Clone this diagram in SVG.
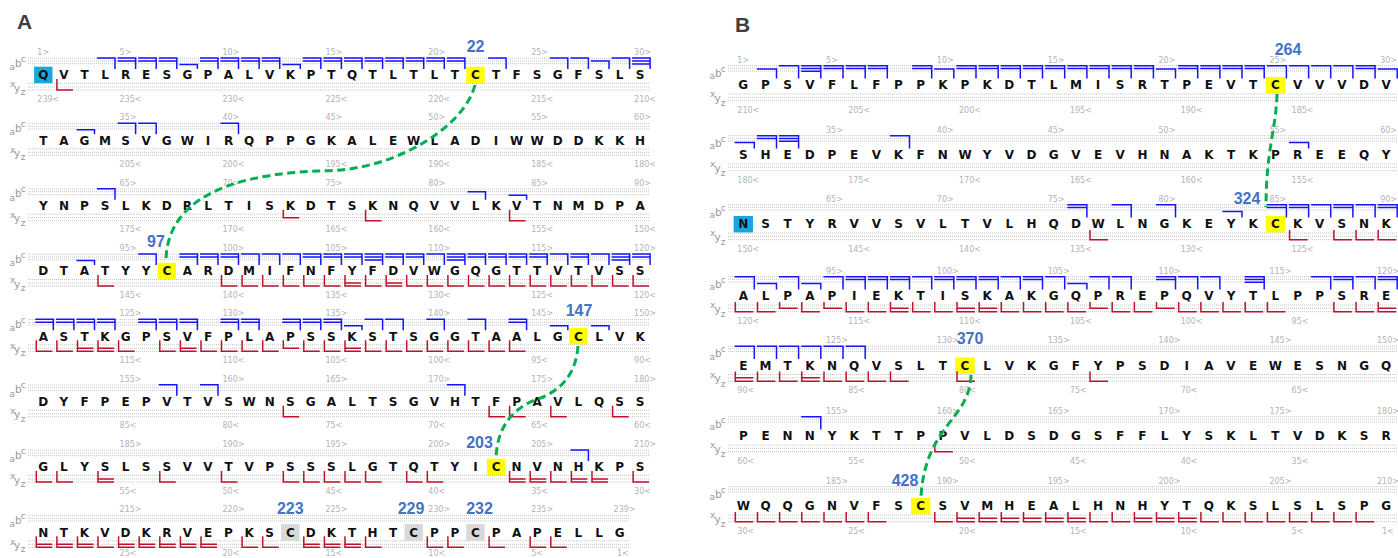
<svg xmlns="http://www.w3.org/2000/svg" xmlns:xlink="http://www.w3.org/1999/xlink" width="1398" height="558" viewBox="0 0 1398 558">
<style>
.seq{font-family:"DejaVu Sans",Verdana,sans-serif;font-weight:bold;font-size:12px;fill:#111;text-anchor:middle}
.num{font-family:"DejaVu Sans",Verdana,sans-serif;font-size:8px;fill:#b4b4b4}
.lab{font-family:"DejaVu Sans",Verdana,sans-serif;fill:#9a9a9a}
.dot{stroke:#c4c4c4;stroke-width:1;stroke-dasharray:1 1;fill:none}
.bl{stroke:#1414ff;stroke-width:1.5;fill:none}
.rd{stroke:#c0102e;stroke-width:1.5;fill:none}
.cys{font-family:"Liberation Sans",Arial,sans-serif;font-weight:bold;font-size:16px;fill:#4472c4;text-anchor:middle}
.ss{stroke:#00b050;stroke-width:3;stroke-dasharray:8 4.5;fill:none}
.pl{font-family:"Liberation Sans",Arial,sans-serif;font-weight:bold;font-size:21px;fill:#404040}
.yel{fill:#ffff00}.gry{fill:#d9d9d9}.cyn{fill:#19a6e0}
</style>
<defs>
<path id="dA" class="dot" d="M28 -16.7H650M28 -14H650M28 -11.3H650M28 8.5H650M28 12H650M28 15H650"/>
<path id="dA2" class="dot" d="M28 -16.7H630M28 -14H630M28 -11.3H630M28 8.5H630M28 12H630M28 15H630"/>
<path id="dB" class="dot" d="M728 -19.3H1398M728 -16.7H1398M728 -14H1398M728 9H1398M728 12.3H1398M728 15.7H1398"/>
<g id="abcA" class="lab"><text x="9.5" y="-5" font-size="9">a</text><text x="15" y="-8.3" font-size="10.5">b</text><text x="20.7" y="-13.3" font-size="9">c</text><text x="10" y="12.3" font-size="9">x</text><text x="14" y="16.5" font-size="10.5">y</text><text x="20.7" y="20" font-size="9">z</text></g>
<g id="abcB" class="lab"><text x="709.5" y="-5.7" font-size="9">a</text><text x="715" y="-8.3" font-size="10.5">b</text><text x="720.7" y="-13.3" font-size="9">c</text><text x="710" y="12.3" font-size="9">x</text><text x="714.5" y="16.5" font-size="10.5">y</text><text x="720.7" y="21" font-size="9">z</text></g>
<path id="Ac" d="M-8 -17H10V-6"/>
<path id="Acb" d="M-8 -17H10V-6M-8 -14H10"/>
<path id="Acba" d="M-8 -17H10V-6M-8 -14H10M-8 -11H10"/>
<path id="Ab" d="M-8 -14H10V-6"/>
<path id="Aa" d="M-8 -10.5H10V-6"/>
<path id="Az" d="M-7 4V15H9"/>
<path id="Ayz" d="M-7 4V15H9M-7 12H9"/>
<path id="Ay" d="M-7 4V12H9"/>
<path id="Bc" d="M-8.6 -19.3H11V-6.5"/>
<path id="Bcb" d="M-8.6 -19.3H11V-6.5M-8.6 -16.5H11"/>
<path id="Bcba" d="M-8.6 -19.3H11V-6.5M-8.6 -16.5H11M-8.6 -13.7H11"/>
<path id="Bb" d="M-8.6 -16H11V-6.5"/>
<path id="Ba" d="M-8.6 -12.5H11V-6.5"/>
<path id="Bz" d="M-8 6V15.7H10"/>
<path id="Byz" d="M-8 6V15.7H10M-8 12.3H10"/>
<path id="By" d="M-8 6V12.3H10"/>
</defs>
<rect width="1398" height="558" fill="#ffffff"/>
<text class="pl" x="17" y="29.3">A</text>
<text class="pl" x="735" y="32.3">B</text>

<!-- cysteine / terminus nodes (highlights + labels) -->
<g id="nterm-A"><rect class="cyn" x="34.1" y="66.7" width="18.4" height="16.6"/></g>
<g id="cys22"><rect class="yel" x="466.3" y="66.7" width="18.4" height="16.6"/><text class="cys" x="475.6" y="51.7">22</text></g>
<g id="cys97"><rect class="yel" x="157.6" y="262.7" width="18.4" height="16.6"/><text class="cys" x="156" y="246.5">97</text></g>
<g id="cys147"><rect class="yel" x="569.2" y="328" width="18.4" height="16.6"/><text class="cys" x="579" y="316">147</text></g>
<g id="cys203"><rect class="yel" x="486.9" y="458.7" width="18.4" height="16.6"/><text class="cys" x="479.5" y="448.3">203</text></g>
<g id="cys223"><rect class="gry" x="281.1" y="524" width="18.4" height="16.6"/><text class="cys" x="290.3" y="514">223</text></g>
<g id="cys229"><rect class="gry" x="404.5" y="524" width="18.4" height="16.6"/><text class="cys" x="411" y="514">229</text></g>
<g id="cys232"><rect class="gry" x="466.3" y="524" width="18.4" height="16.6"/><text class="cys" x="479.5" y="514">232</text></g>
<g id="nterm-B"><rect class="cyn" x="733.6" y="216" width="19.4" height="16.5"/></g>
<g id="cys264"><rect class="yel" x="1265.7" y="77" width="19.4" height="16.5"/><text class="cys" x="1288" y="54.5">264</text></g>
<g id="cys324"><rect class="yel" x="1265.7" y="216" width="19.4" height="16.5"/><text class="cys" x="1247" y="204">324</text></g>
<g id="cys370"><rect class="yel" x="955.3" y="357.5" width="19.4" height="16.5"/><text class="cys" x="970" y="344">370</text></g>
<g id="cys428"><rect class="yel" x="911" y="498" width="19.4" height="16.5"/><text class="cys" x="905" y="486">428</text></g>

<!-- Panel A rows -->
<g id="A-row1" transform="translate(0,75)">
<use href="#dA"/><use href="#abcA"/>
<g class="bl"><use href="#Ac" x="105"/><use href="#Acb" x="125.6"/><use href="#Acb" x="146.2"/><use href="#Acb" x="166.8"/><use href="#Aa" x="187.4"/><use href="#Acb" x="208"/><use href="#Acb" x="228.5"/><use href="#Acb" x="249.1"/><use href="#Acb" x="269.7"/><use href="#Aa" x="290.3"/><use href="#Acb" x="310.8"/><use href="#Acb" x="331.4"/><use href="#Acb" x="352"/><use href="#Acb" x="372.6"/><use href="#Acb" x="393.2"/><use href="#Acb" x="413.7"/><use href="#Acb" x="434.3"/><use href="#Acb" x="454.9"/><use href="#Ac" x="496.1"/><use href="#Ac" x="557.8"/><use href="#Ac" x="578.4"/><use href="#Ab" x="599"/><use href="#Ac" x="619.6"/><use href="#Acba" x="640.1"/></g>
<g class="rd"><use href="#Az" x="63.9"/></g>
<text class="seq" y="4.4" x="43.3 63.9 84.5 105 125.6 146.2 166.8 187.4 208 228.5 249.1 269.7 290.3 310.8 331.4 352 372.6 393.2 413.7 434.3 454.9 475.5 496.1 516.6 537.2 557.8 578.4 599 619.6 640.1">QVTLRESGPALVKPTQTLTLTCTFSGFSLS</text>
<text class="num" y="-20"><tspan x="37.3">1&gt;</tspan><tspan x="119.6">5&gt;</tspan><tspan x="222.5">10&gt;</tspan><tspan x="325.4">15&gt;</tspan><tspan x="428.3">20&gt;</tspan><tspan x="531.2">25&gt;</tspan><tspan x="634.1">30&gt;</tspan></text>
<text class="num" y="26.7"><tspan x="37.3">239&lt;</tspan><tspan x="119.6">235&lt;</tspan><tspan x="222.5">230&lt;</tspan><tspan x="325.4">225&lt;</tspan><tspan x="428.3">220&lt;</tspan><tspan x="531.2">215&lt;</tspan><tspan x="634.1">210&lt;</tspan></text>
</g>

<g id="A-row2" transform="translate(0,140.3)">
<use href="#dA"/><use href="#abcA"/>
<g class="bl"><use href="#Aa" x="84.5"/><use href="#Ac" x="125.6"/><use href="#Ac" x="146.2"/><use href="#Ac" x="228.5"/></g>
<text class="seq" y="4.4" x="43.3 63.9 84.5 105 125.6 146.2 166.8 187.4 208 228.5 249.1 269.7 290.3 310.8 331.4 352 372.6 393.2 413.7 434.3 454.9 475.5 496.1 516.6 537.2 557.8 578.4 599 619.6 640.1">TAGMSVGWIRQPPGKALEWLADIWWDDKKH</text>
<text class="num" y="-20"><tspan x="119.6">35&gt;</tspan><tspan x="222.5">40&gt;</tspan><tspan x="325.4">45&gt;</tspan><tspan x="428.3">50&gt;</tspan><tspan x="531.2">55&gt;</tspan><tspan x="634.1">60&gt;</tspan></text>
<text class="num" y="26.7"><tspan x="119.6">205&lt;</tspan><tspan x="222.5">200&lt;</tspan><tspan x="325.4">195&lt;</tspan><tspan x="428.3">190&lt;</tspan><tspan x="531.2">185&lt;</tspan><tspan x="634.1">180&lt;</tspan></text>
</g>

<g id="A-row3" transform="translate(0,205.7)">
<use href="#dA"/><use href="#abcA"/>
<g class="bl"><use href="#Ac" x="105"/><use href="#Ab" x="475.5"/><use href="#Aa" x="516.6"/></g>
<g class="rd"><use href="#Ay" x="290.3"/><use href="#Az" x="372.6"/><use href="#Az" x="516.6"/></g>
<text class="seq" y="4.4" x="43.3 63.9 84.5 105 125.6 146.2 166.8 187.4 208 228.5 249.1 269.7 290.3 310.8 331.4 352 372.6 393.2 413.7 434.3 454.9 475.5 496.1 516.6 537.2 557.8 578.4 599 619.6 640.1">YNPSLKDRLTISKDTSKNQVVLKVTNMDPA</text>
<text class="num" y="-20"><tspan x="119.6">65&gt;</tspan><tspan x="222.5">70&gt;</tspan><tspan x="325.4">75&gt;</tspan><tspan x="428.3">80&gt;</tspan><tspan x="531.2">85&gt;</tspan><tspan x="634.1">90&gt;</tspan></text>
<text class="num" y="26.7"><tspan x="119.6">175&lt;</tspan><tspan x="222.5">170&lt;</tspan><tspan x="325.4">165&lt;</tspan><tspan x="428.3">160&lt;</tspan><tspan x="531.2">155&lt;</tspan><tspan x="634.1">150&lt;</tspan></text>
</g>

<g id="A-row4" transform="translate(0,271)">
<use href="#dA"/><use href="#abcA"/>
<g class="bl"><use href="#Aa" x="84.5"/><use href="#Ac" x="146.2"/><use href="#Acb" x="187.4"/><use href="#Acb" x="208"/><use href="#Acb" x="228.5"/><use href="#Ac" x="249.1"/><use href="#Ac" x="269.7"/><use href="#Ac" x="290.3"/><use href="#Acb" x="310.8"/><use href="#Acb" x="331.4"/><use href="#Acb" x="352"/><use href="#Acba" x="372.6"/><use href="#Acb" x="393.2"/><use href="#Acb" x="413.7"/><use href="#Ac" x="434.3"/><use href="#Acba" x="454.9"/><use href="#Acb" x="475.5"/><use href="#Acb" x="496.1"/><use href="#Acb" x="516.6"/><use href="#Acb" x="537.2"/><use href="#Ac" x="557.8"/><use href="#Acb" x="578.4"/><use href="#Ac" x="599"/><use href="#Acba" x="619.6"/><use href="#Acb" x="640.1"/></g>
<g class="rd"><use href="#Az" x="105"/><use href="#Az" x="228.5"/><use href="#Az" x="249.1"/><use href="#Az" x="269.7"/><use href="#Az" x="290.3"/><use href="#Az" x="310.8"/><use href="#Az" x="331.4"/><use href="#Ayz" x="352"/><use href="#Az" x="372.6"/><use href="#Ayz" x="393.2"/><use href="#Az" x="413.7"/><use href="#Az" x="434.3"/><use href="#Az" x="454.9"/><use href="#Az" x="475.5"/><use href="#Az" x="496.1"/><use href="#Az" x="516.6"/><use href="#Az" x="537.2"/><use href="#Az" x="557.8"/><use href="#Az" x="578.4"/><use href="#Az" x="599"/><use href="#Az" x="619.6"/><use href="#Az" x="640.1"/></g>
<text class="seq" y="4.4" x="43.3 63.9 84.5 105 125.6 146.2 166.8 187.4 208 228.5 249.1 269.7 290.3 310.8 331.4 352 372.6 393.2 413.7 434.3 454.9 475.5 496.1 516.6 537.2 557.8 578.4 599 619.6 640.1">DTATYYCARDMIFNFYFDVWGQGTTVTVSS</text>
<text class="num" y="-20"><tspan x="119.6">95&gt;</tspan><tspan x="222.5">100&gt;</tspan><tspan x="325.4">105&gt;</tspan><tspan x="428.3">110&gt;</tspan><tspan x="531.2">115&gt;</tspan><tspan x="634.1">120&gt;</tspan></text>
<text class="num" y="26.7"><tspan x="119.6">145&lt;</tspan><tspan x="222.5">140&lt;</tspan><tspan x="325.4">135&lt;</tspan><tspan x="428.3">130&lt;</tspan><tspan x="531.2">125&lt;</tspan><tspan x="634.1">120&lt;</tspan></text>
</g>

<g id="A-row5" transform="translate(0,336.3)">
<use href="#dA"/><use href="#abcA"/>
<g class="bl"><use href="#Acb" x="43.3"/><use href="#Acb" x="63.9"/><use href="#Acb" x="84.5"/><use href="#Acb" x="105"/><use href="#Acb" x="146.2"/><use href="#Acb" x="166.8"/><use href="#Acb" x="187.4"/><use href="#Acb" x="228.5"/><use href="#Acb" x="249.1"/><use href="#Acb" x="290.3"/><use href="#Acb" x="310.8"/><use href="#Acb" x="331.4"/><use href="#Aa" x="352"/><use href="#Ac" x="372.6"/><use href="#Ac" x="393.2"/><use href="#Ac" x="434.3"/><use href="#Ac" x="475.5"/><use href="#Acb" x="516.6"/><use href="#Aa" x="557.8"/><use href="#Aa" x="599"/></g>
<g class="rd"><use href="#Az" x="43.3"/><use href="#Az" x="63.9"/><use href="#Ayz" x="84.5"/><use href="#Ayz" x="105"/><use href="#Az" x="125.6"/><use href="#Az" x="166.8"/><use href="#Ayz" x="187.4"/><use href="#Az" x="208"/><use href="#Az" x="228.5"/><use href="#Az" x="249.1"/><use href="#Az" x="269.7"/><use href="#Ay" x="290.3"/><use href="#Az" x="310.8"/><use href="#Az" x="331.4"/><use href="#Ayz" x="352"/><use href="#Az" x="372.6"/><use href="#Az" x="393.2"/><use href="#Az" x="413.7"/><use href="#Az" x="434.3"/><use href="#Az" x="454.9"/><use href="#Az" x="475.5"/><use href="#Az" x="496.1"/><use href="#Az" x="516.6"/></g>
<text class="seq" y="4.4" x="43.3 63.9 84.5 105 125.6 146.2 166.8 187.4 208 228.5 249.1 269.7 290.3 310.8 331.4 352 372.6 393.2 413.7 434.3 454.9 475.5 496.1 516.6 537.2 557.8 578.4 599 619.6 640.1">ASTKGPSVFPLAPSSKSTSGGTAALGCLVK</text>
<text class="num" y="-20"><tspan x="119.6">125&gt;</tspan><tspan x="222.5">130&gt;</tspan><tspan x="325.4">135&gt;</tspan><tspan x="428.3">140&gt;</tspan><tspan x="531.2">145&gt;</tspan><tspan x="634.1">150&gt;</tspan></text>
<text class="num" y="26.7"><tspan x="119.6">115&lt;</tspan><tspan x="222.5">110&lt;</tspan><tspan x="325.4">105&lt;</tspan><tspan x="428.3">100&lt;</tspan><tspan x="531.2">95&lt;</tspan><tspan x="634.1">90&lt;</tspan></text>
</g>

<g id="A-row6" transform="translate(0,401.7)">
<use href="#dA"/><use href="#abcA"/>
<g class="bl"><use href="#Ac" x="166.8"/><use href="#Ac" x="208"/><use href="#Ac" x="454.9"/></g>
<g class="rd"><use href="#Az" x="290.3"/><use href="#Az" x="496.1"/><use href="#Az" x="516.6"/><use href="#Az" x="557.8"/><use href="#Az" x="619.6"/></g>
<text class="seq" y="4.4" x="43.3 63.9 84.5 105 125.6 146.2 166.8 187.4 208 228.5 249.1 269.7 290.3 310.8 331.4 352 372.6 393.2 413.7 434.3 454.9 475.5 496.1 516.6 537.2 557.8 578.4 599 619.6 640.1">DYFPEPVTVSWNSGALTSGVHTFPAVLQSS</text>
<text class="num" y="-20"><tspan x="119.6">155&gt;</tspan><tspan x="222.5">160&gt;</tspan><tspan x="325.4">165&gt;</tspan><tspan x="428.3">170&gt;</tspan><tspan x="531.2">175&gt;</tspan><tspan x="634.1">180&gt;</tspan></text>
<text class="num" y="26.7"><tspan x="119.6">85&lt;</tspan><tspan x="222.5">80&lt;</tspan><tspan x="325.4">75&lt;</tspan><tspan x="428.3">70&lt;</tspan><tspan x="531.2">65&lt;</tspan><tspan x="634.1">60&lt;</tspan></text>
</g>

<g id="A-row7" transform="translate(0,467)">
<use href="#dA"/><use href="#abcA"/>
<g class="bl"><use href="#Ac" x="578.4"/></g>
<g class="rd"><use href="#Az" x="43.3"/><use href="#Az" x="63.9"/><use href="#Ayz" x="105"/><use href="#Az" x="166.8"/><use href="#Az" x="228.5"/><use href="#Az" x="290.3"/><use href="#Az" x="310.8"/><use href="#Az" x="331.4"/><use href="#Az" x="352"/><use href="#Az" x="372.6"/><use href="#Az" x="413.7"/><use href="#Az" x="434.3"/><use href="#Ayz" x="516.6"/><use href="#Ayz" x="537.2"/><use href="#Az" x="557.8"/><use href="#Ayz" x="578.4"/><use href="#Ayz" x="599"/><use href="#Az" x="640.1"/></g>
<text class="seq" y="4.4" x="43.3 63.9 84.5 105 125.6 146.2 166.8 187.4 208 228.5 249.1 269.7 290.3 310.8 331.4 352 372.6 393.2 413.7 434.3 454.9 475.5 496.1 516.6 537.2 557.8 578.4 599 619.6 640.1">GLYSLSSVVTVPSSSLGTQTYICNVNHKPS</text>
<text class="num" y="-20"><tspan x="119.6">185&gt;</tspan><tspan x="222.5">190&gt;</tspan><tspan x="325.4">195&gt;</tspan><tspan x="428.3">200&gt;</tspan><tspan x="531.2">205&gt;</tspan><tspan x="634.1">210&gt;</tspan></text>
<text class="num" y="26.7"><tspan x="119.6">55&lt;</tspan><tspan x="222.5">50&lt;</tspan><tspan x="325.4">45&lt;</tspan><tspan x="428.3">40&lt;</tspan><tspan x="531.2">35&lt;</tspan><tspan x="634.1">30&lt;</tspan></text>
</g>

<g id="A-row8" transform="translate(0,532.3)">
<use href="#dA2"/><use href="#abcA"/>
<g class="rd"><use href="#Ayz" x="43.3"/><use href="#Ayz" x="63.9"/><use href="#Ayz" x="84.5"/><use href="#Az" x="105"/><use href="#Ayz" x="125.6"/><use href="#Ayz" x="146.2"/><use href="#Ayz" x="166.8"/><use href="#Ayz" x="187.4"/><use href="#Ayz" x="208"/><use href="#Az" x="249.1"/><use href="#Az" x="269.7"/><use href="#Ayz" x="310.8"/><use href="#Ayz" x="331.4"/><use href="#Ayz" x="352"/><use href="#Az" x="372.6"/><use href="#Az" x="434.3"/><use href="#Az" x="454.9"/><use href="#Az" x="496.1"/><use href="#Az" x="537.2"/><use href="#Az" x="557.8"/></g>
<text class="seq" y="4.4" x="43.3 63.9 84.5 105 125.6 146.2 166.8 187.4 208 228.5 249.1 269.7 290.3 310.8 331.4 352 372.6 393.2 413.7 434.3 454.9 475.5 496.1 516.6 537.2 557.8 578.4 599 619.6">NTKVDKRVEPKSCDKTHTCPPCPAPELLG</text>
<text class="num" y="-20"><tspan x="119.6">215&gt;</tspan><tspan x="222.5">220&gt;</tspan><tspan x="325.4">225&gt;</tspan><tspan x="428.3">230&gt;</tspan><tspan x="531.2">235&gt;</tspan><tspan x="613.6">239&gt;</tspan></text>
<text class="num" y="23.5"><tspan x="119.6">25&lt;</tspan><tspan x="222.5">20&lt;</tspan><tspan x="325.4">15&lt;</tspan><tspan x="428.3">10&lt;</tspan><tspan x="531.2">5&lt;</tspan><tspan x="617">1&lt;</tspan></text>
</g>

<!-- Panel B rows -->
<g id="B-row1" transform="translate(0,85)">
<use href="#dB"/><use href="#abcB"/>
<g class="bl"><use href="#Bb" x="765.5"/><use href="#Bc" x="787.6"/><use href="#Bcba" x="809.8"/><use href="#Bcb" x="832"/><use href="#Bcb" x="854.2"/><use href="#Bcb" x="876.3"/><use href="#Bcb" x="920.7"/><use href="#Bb" x="942.8"/><use href="#Bcb" x="965"/><use href="#Bcb" x="987.2"/><use href="#Bcb" x="1009.3"/><use href="#Bcb" x="1031.5"/><use href="#Bcb" x="1053.7"/><use href="#Bcb" x="1075.9"/><use href="#Bcb" x="1098"/><use href="#Bcb" x="1120.2"/><use href="#Bcb" x="1142.4"/><use href="#Bb" x="1164.5"/><use href="#Bcb" x="1186.7"/><use href="#Bcb" x="1208.9"/><use href="#Bcb" x="1231"/><use href="#Bcb" x="1253.2"/><use href="#Bc" x="1275.4"/><use href="#Bc" x="1297.6"/><use href="#Bc" x="1319.7"/><use href="#Bc" x="1341.9"/><use href="#Bcb" x="1364.1"/><use href="#Bb" x="1386.2"/></g>
<text class="seq" y="4.4" x="743.3 765.5 787.6 809.8 832 854.2 876.3 898.5 920.7 942.8 965 987.2 1009.3 1031.5 1053.7 1075.9 1098 1120.2 1142.4 1164.5 1186.7 1208.9 1231 1253.2 1275.4 1297.6 1319.7 1341.9 1364.1 1386.2">GPSVFLFPPKPKDTLMISRTPEVTCVVVDV</text>
<text class="num" y="-22.3"><tspan x="737.3">1&gt;</tspan><tspan x="826">5&gt;</tspan><tspan x="936.8">10&gt;</tspan><tspan x="1047.7">15&gt;</tspan><tspan x="1158.5">20&gt;</tspan><tspan x="1269.4">25&gt;</tspan><tspan x="1380.2">30&gt;</tspan></text>
<text class="num" y="27.7"><tspan x="737.3">210&lt;</tspan><tspan x="848.2">205&lt;</tspan><tspan x="959">200&lt;</tspan><tspan x="1069.9">195&lt;</tspan><tspan x="1180.7">190&lt;</tspan><tspan x="1291.6">185&lt;</tspan></text>
</g>

<g id="B-row2" transform="translate(0,155)">
<use href="#dB"/><use href="#abcB"/>
<g class="bl"><use href="#Ba" x="743.3"/><use href="#Bcb" x="765.5"/><use href="#Bcba" x="787.6"/><use href="#Bc" x="898.5"/><use href="#Ba" x="1297.6"/></g>
<text class="seq" y="4.4" x="743.3 765.5 787.6 809.8 832 854.2 876.3 898.5 920.7 942.8 965 987.2 1009.3 1031.5 1053.7 1075.9 1098 1120.2 1142.4 1164.5 1186.7 1208.9 1231 1253.2 1275.4 1297.6 1319.7 1341.9 1364.1 1386.2">SHEDPEVKFNWYVDGVEVHNAKTKPREEQY</text>
<text class="num" y="-22.3"><tspan x="826">35&gt;</tspan><tspan x="936.8">40&gt;</tspan><tspan x="1047.7">45&gt;</tspan><tspan x="1158.5">50&gt;</tspan><tspan x="1269.4">55&gt;</tspan><tspan x="1380.2">60&gt;</tspan></text>
<text class="num" y="27.7"><tspan x="737.3">180&lt;</tspan><tspan x="848.2">175&lt;</tspan><tspan x="959">170&lt;</tspan><tspan x="1069.9">165&lt;</tspan><tspan x="1180.7">160&lt;</tspan><tspan x="1291.6">155&lt;</tspan></text>
</g>

<g id="B-row3" transform="translate(0,224)">
<use href="#dB"/><use href="#abcB"/>
<g class="bl"><use href="#Bcb" x="1075.9"/><use href="#Bc" x="1120.2"/><use href="#Bc" x="1164.5"/><use href="#Ba" x="1231"/><use href="#Bcb" x="1275.4"/><use href="#Bcb" x="1297.6"/><use href="#Bc" x="1319.7"/><use href="#Bcb" x="1341.9"/><use href="#Bc" x="1364.1"/><use href="#Bcb" x="1386.2"/></g>
<g class="rd"><use href="#Bz" x="1098"/><use href="#Bz" x="1297.6"/><use href="#Bz" x="1341.9"/><use href="#Bz" x="1364.1"/><use href="#Bz" x="1386.2"/></g>
<text class="seq" y="4.4" x="743.3 765.5 787.6 809.8 832 854.2 876.3 898.5 920.7 942.8 965 987.2 1009.3 1031.5 1053.7 1075.9 1098 1120.2 1142.4 1164.5 1186.7 1208.9 1231 1253.2 1275.4 1297.6 1319.7 1341.9 1364.1 1386.2">NSTYRVVSVLTVLHQDWLNGKEYKCKVSNK</text>
<text class="num" y="-22.3"><tspan x="826">65&gt;</tspan><tspan x="936.8">70&gt;</tspan><tspan x="1047.7">75&gt;</tspan><tspan x="1158.5">80&gt;</tspan><tspan x="1269.4">85&gt;</tspan><tspan x="1380.2">90&gt;</tspan></text>
<text class="num" y="27.7"><tspan x="737.3">150&lt;</tspan><tspan x="848.2">145&lt;</tspan><tspan x="959">140&lt;</tspan><tspan x="1069.9">135&lt;</tspan><tspan x="1180.7">130&lt;</tspan><tspan x="1291.6">125&lt;</tspan></text>
</g>

<g id="B-row4" transform="translate(0,296)">
<use href="#dB"/><use href="#abcB"/>
<g class="bl"><use href="#Bc" x="743.3"/><use href="#Ba" x="765.5"/><use href="#Bc" x="787.6"/><use href="#Ba" x="809.8"/><use href="#Bc" x="832"/><use href="#Bcb" x="854.2"/><use href="#Bcb" x="876.3"/><use href="#Bcb" x="898.5"/><use href="#Bc" x="920.7"/><use href="#Bcb" x="942.8"/><use href="#Bcb" x="965"/><use href="#Bcb" x="987.2"/><use href="#Bc" x="1009.3"/><use href="#Bcb" x="1031.5"/><use href="#Bc" x="1053.7"/><use href="#Ba" x="1075.9"/><use href="#Bc" x="1098"/><use href="#Bc" x="1120.2"/><use href="#Bcb" x="1164.5"/><use href="#Bc" x="1186.7"/><use href="#Bc" x="1208.9"/><use href="#Bcba" x="1253.2"/><use href="#Bc" x="1319.7"/><use href="#Bcb" x="1341.9"/><use href="#Bc" x="1364.1"/><use href="#Bcb" x="1386.2"/></g>
<g class="rd"><use href="#Bz" x="743.3"/><use href="#Bz" x="765.5"/><use href="#By" x="787.6"/><use href="#Bz" x="809.8"/><use href="#By" x="832"/><use href="#Bz" x="854.2"/><use href="#Bz" x="876.3"/><use href="#Byz" x="898.5"/><use href="#Bz" x="920.7"/><use href="#Bz" x="942.8"/><use href="#Byz" x="965"/><use href="#Byz" x="987.2"/><use href="#Bz" x="1009.3"/><use href="#Bz" x="1031.5"/><use href="#Bz" x="1053.7"/><use href="#Bz" x="1075.9"/><use href="#By" x="1098"/><use href="#Bz" x="1120.2"/><use href="#Bz" x="1142.4"/><use href="#By" x="1164.5"/><use href="#Bz" x="1186.7"/><use href="#Bz" x="1208.9"/><use href="#Bz" x="1231"/><use href="#Bz" x="1253.2"/><use href="#Bz" x="1275.4"/><use href="#Bz" x="1341.9"/><use href="#Bz" x="1364.1"/><use href="#Byz" x="1386.2"/></g>
<text class="seq" y="4.4" x="743.3 765.5 787.6 809.8 832 854.2 876.3 898.5 920.7 942.8 965 987.2 1009.3 1031.5 1053.7 1075.9 1098 1120.2 1142.4 1164.5 1186.7 1208.9 1231 1253.2 1275.4 1297.6 1319.7 1341.9 1364.1 1386.2">ALPAPIEKTISKAKGQPREPQVYTLPPSRE</text>
<text class="num" y="-22.3"><tspan x="826">95&gt;</tspan><tspan x="936.8">100&gt;</tspan><tspan x="1047.7">105&gt;</tspan><tspan x="1158.5">110&gt;</tspan><tspan x="1269.4">115&gt;</tspan><tspan x="1377">120&gt;</tspan></text>
<text class="num" y="27.7"><tspan x="737.3">120&lt;</tspan><tspan x="848.2">115&lt;</tspan><tspan x="959">110&lt;</tspan><tspan x="1069.9">105&lt;</tspan><tspan x="1180.7">100&lt;</tspan><tspan x="1291.6">95&lt;</tspan></text>
</g>

<g id="B-row5" transform="translate(0,365.5)">
<use href="#dB"/><use href="#abcB"/>
<g class="bl"><use href="#Bc" x="743.3"/><use href="#Bc" x="765.5"/><use href="#Bc" x="787.6"/><use href="#Bc" x="809.8"/><use href="#Bc" x="832"/><use href="#Bc" x="854.2"/></g>
<g class="rd"><use href="#Byz" x="743.3"/><use href="#Bz" x="765.5"/><use href="#Bz" x="787.6"/><use href="#Byz" x="809.8"/><use href="#Bz" x="832"/><use href="#Bz" x="854.2"/><use href="#Bz" x="876.3"/><use href="#Bz" x="898.5"/><use href="#Bz" x="965"/><use href="#Bz" x="1098"/></g>
<text class="seq" y="4.4" x="743.3 765.5 787.6 809.8 832 854.2 876.3 898.5 920.7 942.8 965 987.2 1009.3 1031.5 1053.7 1075.9 1098 1120.2 1142.4 1164.5 1186.7 1208.9 1231 1253.2 1275.4 1297.6 1319.7 1341.9 1364.1 1386.2">EMTKNQVSLTCLVKGFYPSDIAVEWESNGQ</text>
<text class="num" y="-22.3"><tspan x="826">125&gt;</tspan><tspan x="936.8">130&gt;</tspan><tspan x="1047.7">135&gt;</tspan><tspan x="1158.5">140&gt;</tspan><tspan x="1269.4">145&gt;</tspan><tspan x="1377">150&gt;</tspan></text>
<text class="num" y="27.7"><tspan x="737.3">90&lt;</tspan><tspan x="848.2">85&lt;</tspan><tspan x="959">80&lt;</tspan><tspan x="1069.9">75&lt;</tspan><tspan x="1180.7">70&lt;</tspan><tspan x="1291.6">65&lt;</tspan></text>
</g>

<g id="B-row6" transform="translate(0,436)">
<use href="#dB"/><use href="#abcB"/>
<g class="bl"><use href="#Bc" x="809.8"/></g>
<g class="rd"><use href="#Bz" x="942.8"/></g>
<text class="seq" y="4.4" x="743.3 765.5 787.6 809.8 832 854.2 876.3 898.5 920.7 942.8 965 987.2 1009.3 1031.5 1053.7 1075.9 1098 1120.2 1142.4 1164.5 1186.7 1208.9 1231 1253.2 1275.4 1297.6 1319.7 1341.9 1364.1 1386.2">PENNYKTTPPVLDSDGSFFLYSKLTVDKSR</text>
<text class="num" y="-22.3"><tspan x="826">155&gt;</tspan><tspan x="936.8">160&gt;</tspan><tspan x="1047.7">165&gt;</tspan><tspan x="1158.5">170&gt;</tspan><tspan x="1269.4">175&gt;</tspan><tspan x="1377">180&gt;</tspan></text>
<text class="num" y="27.7"><tspan x="737.3">60&lt;</tspan><tspan x="848.2">55&lt;</tspan><tspan x="959">50&lt;</tspan><tspan x="1069.9">45&lt;</tspan><tspan x="1180.7">40&lt;</tspan><tspan x="1291.6">35&lt;</tspan></text>
</g>

<g id="B-row7" transform="translate(0,506)">
<use href="#dB"/><use href="#abcB"/>
<g class="rd"><use href="#Bz" x="743.3"/><use href="#Bz" x="765.5"/><use href="#Bz" x="787.6"/><use href="#Bz" x="809.8"/><use href="#Bz" x="832"/><use href="#Bz" x="854.2"/><use href="#Bz" x="876.3"/><use href="#Bz" x="942.8"/><use href="#Byz" x="965"/><use href="#Byz" x="987.2"/><use href="#Byz" x="1009.3"/><use href="#Byz" x="1031.5"/><use href="#Byz" x="1053.7"/><use href="#Byz" x="1075.9"/><use href="#Bz" x="1098"/><use href="#Bz" x="1120.2"/><use href="#Byz" x="1142.4"/><use href="#Byz" x="1164.5"/><use href="#Byz" x="1186.7"/><use href="#Bz" x="1208.9"/><use href="#Bz" x="1231"/><use href="#Bz" x="1253.2"/><use href="#Bz" x="1275.4"/><use href="#Bz" x="1297.6"/><use href="#Bz" x="1319.7"/><use href="#Bz" x="1341.9"/><use href="#Bz" x="1364.1"/></g>
<text class="seq" y="4.4" x="743.3 765.5 787.6 809.8 832 854.2 876.3 898.5 920.7 942.8 965 987.2 1009.3 1031.5 1053.7 1075.9 1098 1120.2 1142.4 1164.5 1186.7 1208.9 1231 1253.2 1275.4 1297.6 1319.7 1341.9 1364.1 1386.2">WQQGNVFSCSVMHEALHNHYTQKSLSLSPG</text>
<text class="num" y="-22.3"><tspan x="826">185&gt;</tspan><tspan x="936.8">190&gt;</tspan><tspan x="1047.7">195&gt;</tspan><tspan x="1158.5">200&gt;</tspan><tspan x="1269.4">205&gt;</tspan><tspan x="1377">210&gt;</tspan></text>
<text class="num" y="27.7"><tspan x="737.3">30&lt;</tspan><tspan x="848.2">25&lt;</tspan><tspan x="959">20&lt;</tspan><tspan x="1069.9">15&lt;</tspan><tspan x="1180.7">10&lt;</tspan><tspan x="1291.6">5&lt;</tspan><tspan x="1382">1&lt;</tspan></text>
</g>

<!-- disulfide connectors -->
<g id="connectors" class="ss">
<path d="M475 85 C465 125 400 168 330 170.7 C250 172 166 190 166 262"/>
<path d="M578 346 C576 375 560 392 535 400 C510 410 497 430 496 458"/>
<path d="M1277 94 C1276 130 1266 150 1266 207"/>
<path d="M971 375 C970 420 925 425 921 497"/>
</g>
</svg>
